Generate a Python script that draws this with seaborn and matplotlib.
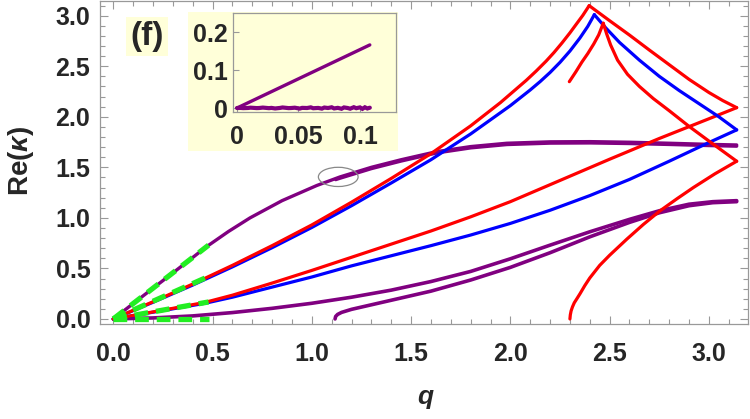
import numpy as np
import pandas as pd
import matplotlib
matplotlib.use("Agg")
import matplotlib.pyplot as plt
from matplotlib.patches import Ellipse, Rectangle
import seaborn as sns

# ---------------- data ----------------
# upper purple curve (branch from origin)
purpleA_q = [0.0, 0.1, 0.2, 0.3, 0.47, 0.58, 0.689, 0.85, 1.025, 1.142, 1.3, 1.45, 1.629, 1.8,
             1.982, 2.2, 2.402, 2.6, 2.8, 3.0, 3.14]
purpleA_y = [0.0, 0.152, 0.304, 0.455, 0.715, 0.865, 1.0, 1.17, 1.32, 1.405, 1.5, 1.575, 1.655, 1.705,
             1.738, 1.752, 1.754, 1.748, 1.738, 1.727, 1.721]
# second, overlapping copy of the upper purple curve (starts at the circled point)
purpleA2_q = [1.12, 1.142, 1.3, 1.45, 1.629, 1.8, 1.982, 2.2, 2.402, 2.6, 2.8, 3.0, 3.14]
purpleA2_y = [1.378, 1.392, 1.487, 1.562, 1.642, 1.692, 1.725, 1.739, 1.741, 1.735, 1.726, 1.715, 1.709]

# red curve rising to the first cusp
red1_q = [0.0, 0.2, 0.4, 0.6, 0.8, 1.0, 1.2, 1.4, 1.6, 1.8, 1.95, 2.08, 2.13, 2.18, 2.22, 2.26,
          2.30, 2.33, 2.365, 2.397]
red1_y = [0.0, 0.17, 0.345, 0.53, 0.725, 0.93, 1.155, 1.39, 1.635, 1.91, 2.14, 2.36, 2.452, 2.55,
          2.636, 2.73, 2.83, 2.91, 3.003, 3.099]
# red branch falling from the first cusp to q = pi
red1b_q = [2.397, 2.5, 2.6, 2.7, 2.8, 2.9, 3.0, 3.07, 3.14]
red1b_y = [3.099, 2.95, 2.808, 2.66, 2.515, 2.37, 2.24, 2.16, 2.09]
# red curve rising from origin to q = pi (lower branch)
red2_q = [0.0, 0.15, 0.3, 0.462, 0.6, 0.8, 1.0, 1.2, 1.4, 1.6, 1.8, 2.0, 2.25, 2.5, 2.75, 3.0, 3.14]
red2_y = [0.0, 0.052, 0.105, 0.164, 0.235, 0.355, 0.48, 0.61, 0.74, 0.87, 1.01, 1.16, 1.37, 1.58, 1.785,
          1.98, 2.09]
# red branches around the second cusp
red3L_q = [2.297, 2.33, 2.36, 2.39, 2.42, 2.445, 2.468]
red3L_y = [2.347, 2.445, 2.54, 2.625, 2.72, 2.81, 2.925]
red3R_q = [2.468, 2.485, 2.505, 2.54, 2.59, 2.65, 2.72, 2.8, 2.9, 3.0, 3.07, 3.14]
red3R_y = [2.925, 2.82, 2.71, 2.56, 2.42, 2.3, 2.18, 2.06, 1.905, 1.76, 1.66, 1.56]
# red curve starting at q ~ 2.3 on the axis
red4_q = [2.300, 2.302, 2.306, 2.313, 2.322, 2.335, 2.351, 2.375, 2.40, 2.45, 2.5, 2.587, 2.67, 2.754,
          2.84, 2.922, 3.03, 3.14]
red4_y = [0.0, 0.04, 0.08, 0.12, 0.16, 0.20, 0.25, 0.33, 0.405, 0.53, 0.63, 0.79, 0.935, 1.07,
          1.19, 1.30, 1.435, 1.56]

# blue curve rising to its cusp
blue1_q = [0.0, 0.2, 0.4, 0.6, 0.8, 1.0, 1.2, 1.4, 1.6, 1.8, 2.0, 2.1, 2.15, 2.2, 2.25, 2.3, 2.35,
           2.39, 2.423]
blue1_y = [0.0, 0.165, 0.335, 0.515, 0.705, 0.905, 1.12, 1.345, 1.575, 1.83, 2.11, 2.265, 2.348,
           2.438, 2.538, 2.65, 2.778, 2.894, 3.01]
blue1b_q = [2.423, 2.48, 2.55, 2.65, 2.75, 2.85, 2.95, 3.05, 3.14]
blue1b_y = [3.01, 2.88, 2.735, 2.56, 2.40, 2.26, 2.13, 2.0, 1.87]
# blue lower branch
blue2_q = [0.0, 0.15, 0.3, 0.462, 0.6, 0.8, 1.0, 1.2, 1.4, 1.6, 1.8, 2.0, 2.2, 2.4, 2.6, 2.8, 3.0, 3.14]
blue2_y = [0.0, 0.05, 0.1, 0.155, 0.215, 0.315, 0.415, 0.525, 0.625, 0.725, 0.83, 0.945, 1.075, 1.22,
           1.38, 1.56, 1.745, 1.87]

# lower purple curves
purpleB_q = [0.0, 0.2, 0.4, 0.6, 0.8, 1.0, 1.2, 1.4, 1.6, 1.8, 2.0, 2.2, 2.4, 2.6, 2.75, 2.9, 3.02, 3.14]
purpleB_y = [0.0, 0.01, 0.03, 0.063, 0.105, 0.155, 0.215, 0.285, 0.37, 0.47, 0.595, 0.73, 0.862, 0.985,
             1.07, 1.135, 1.16, 1.17]
purpleC_q = [1.117, 1.12, 1.13, 1.15, 1.2, 1.3, 1.4, 1.6, 1.8, 2.0, 2.2, 2.4, 2.6, 2.75, 2.9, 3.02, 3.14]
purpleC_y = [0.0, 0.025, 0.045, 0.065, 0.095, 0.14, 0.185, 0.275, 0.385, 0.51, 0.655, 0.812, 0.955,
             1.05, 1.12, 1.15, 1.16]

# green dashed small-q asymptotes
green_q = [0.0, 0.48]
green_y1 = [0.0, 0.73]
green_y2 = [0.0, 0.42]
green_y3 = [0.0, 0.168]
green_y4 = [0.0, 0.0]

# inset
inset_q = [0.0, 0.108]
inset_y = [0.0, 0.166]
inset_noise_q = [0.0, 0.003, 0.005, 0.009, 0.011, 0.016, 0.018, 0.021, 0.026, 0.028, 0.031, 0.035,
                 0.037, 0.042, 0.044, 0.047, 0.051, 0.053, 0.057, 0.06, 0.062, 0.066, 0.069, 0.071,
                 0.074, 0.077, 0.079, 0.082, 0.085, 0.087, 0.09, 0.092, 0.095, 0.097, 0.1, 0.102,
                 0.104, 0.106, 0.108]
inset_noise_y = [0.0, 0.0002, -0.0003, 0.0001, 0.0009, -0.0002, 0.0, 0.0011, -0.0004, 0.0003, -0.0012,
                 0.0002, 0.0014, -0.0003, 0.0, 0.0008, -0.0015, 0.0004, 0.0, 0.0017, -0.0006, 0.0002,
                 -0.0016, 0.0012, 0.0, 0.0019, -0.0011, 0.0004, -0.002, 0.0015, 0.0, -0.0018, 0.0021,
                 -0.0005, 0.0016, -0.0022, 0.0019, -0.0012, 0.0008]

main_xticks = [0.0, 0.5, 1.0, 1.5, 2.0, 2.5, 3.0]
main_yticks = [0.0, 0.5, 1.0, 1.5, 2.0, 2.5, 3.0]
inset_xticks = [0, 0.05, 0.1]
inset_xticklabels = ["0", "0.05", "0.1"]
inset_yticks = [0, 0.1, 0.2]
inset_yticklabels = ["0", "0.1", "0.2"]

# ---------------- style ----------------
sns.set_style("ticks")
plt.rcParams["font.family"] = ["Liberation Sans", "DejaVu Sans"]
plt.rcParams["font.weight"] = "bold"
plt.rcParams["mathtext.fontset"] = "custom"
plt.rcParams["mathtext.it"] = "Liberation Sans:italic"
plt.rcParams["mathtext.rm"] = "Liberation Sans"

RED = "#FF0000"
BLUE = "#0000FF"
PURPLE = "#800080"
GREEN = "#22EE22"
YELLOW = "#FFFFD9"
FRAME = "#999999"

fig = plt.figure(figsize=(7.5, 4.19), dpi=100)
ax = fig.add_axes([100 / 750, 1 - 324 / 419, 648 / 750, 323 / 419])


def draw(a, qs, ys, color, lw, **kw):
    df = pd.DataFrame({"q": qs, "y": ys})
    sns.lineplot(data=df, x="q", y="y", ax=a, color=color, lw=lw, sort=False,
                 estimator=None, **kw)


LW = 2.3
draw(ax, purpleB_q, purpleB_y, PURPLE, 2.6)
draw(ax, purpleC_q, purpleC_y, PURPLE, 2.6)
draw(ax, purpleA_q, purpleA_y, PURPLE, 2.4)
draw(ax, purpleA2_q, purpleA2_y, PURPLE, 2.4)
draw(ax, blue2_q, blue2_y, BLUE, LW)
draw(ax, red2_q, red2_y, RED, LW)
draw(ax, blue1_q, blue1_y, BLUE, LW)
draw(ax, blue1b_q, blue1b_y, BLUE, LW)
draw(ax, red1_q, red1_y, RED, LW)
draw(ax, red1b_q, red1b_y, RED, LW)
draw(ax, red3L_q, red3L_y, RED, LW)
draw(ax, red3R_q, red3R_y, RED, LW)
draw(ax, red4_q, red4_y, RED, LW)
for gy in (green_y1, green_y2, green_y3, green_y4):
    draw(ax, green_q, gy, GREEN, 3.8)
for line in ax.lines[-4:]:
    line.set_dashes([2.6, 1.5])
    line.set_zorder(5)
for line in ax.lines:
    line.set_solid_joinstyle("round")

ax.add_patch(Ellipse((1.133, 1.405), 0.2, 0.19, fill=False, edgecolor="#888888", lw=0.9, zorder=6))

ax.set_xlim(-0.067, 3.197)
ax.set_ylim(-0.05, 3.145)
ax.set_xticks(main_xticks)
ax.set_yticks(main_yticks)
ax.set_xticklabels([f"{v:.1f}" for v in main_xticks], fontsize=18, fontweight="bold")
ax.set_yticklabels([f"{v:.1f}" for v in main_yticks], fontsize=18, fontweight="bold")
ax.xaxis.set_minor_locator(matplotlib.ticker.MultipleLocator(0.1))
ax.yaxis.set_minor_locator(matplotlib.ticker.MultipleLocator(0.1))
ax.tick_params(which="both", direction="in", top=True, right=True, color=FRAME, width=0.8)
ax.tick_params(which="major", length=6)
ax.tick_params(which="minor", length=3.5)
ax.tick_params(axis="x", which="major", pad=13)
ax.tick_params(axis="y", which="major", pad=7)
for s in ax.spines.values():
    s.set_color(FRAME)
    s.set_linewidth(0.9)
ax.set_xlabel("")
ax.set_ylabel("")
fig.text(425 / 750, 1 - 397 / 419, "q", fontsize=19, fontweight="bold", style="italic",
         ha="center", va="center")
fig.text(21 / 750, 1 - 161 / 419, r"Re($\it{\kappa}$)", fontsize=20, fontweight="bold",
         rotation=90, ha="center", va="center")

# "(f)" label
fig.text(147 / 750, 1 - 37 / 419, "(f)", fontsize=24, fontweight="bold", ha="center", va="center",
         bbox=dict(boxstyle="square,pad=0.12", facecolor=YELLOW, edgecolor="none"))

# inset background
fig.patches.append(Rectangle((188 / 750, 1 - 151 / 419), 210 / 750, 139 / 419,
                             transform=fig.transFigure, facecolor=YELLOW, edgecolor="none",
                             zorder=2))
iax = fig.add_axes([233 / 750, 1 - 112 / 419, 163 / 750, 99 / 419], zorder=3)
iax.set_facecolor(YELLOW)
draw(iax, inset_noise_q, inset_noise_y, PURPLE, 3.0)
draw(iax, inset_q, inset_y, PURPLE, 2.4)
for line in iax.lines:
    line.set_solid_joinstyle("miter")
iax.set_xlim(-0.00325, 0.1293)
iax.set_ylim(-0.0105, 0.25)
iax.set_xticks(inset_xticks)
iax.set_xticklabels(inset_xticklabels, fontsize=18, fontweight="bold")
iax.set_yticks(inset_yticks)
iax.set_yticklabels(inset_yticklabels, fontsize=18, fontweight="bold")
iax.tick_params(direction="in", length=4, color=FRAME, width=0.8)
iax.tick_params(axis="x", pad=9)
iax.tick_params(axis="y", pad=4)
iax.set_xlabel("")
iax.set_ylabel("")
for s in iax.spines.values():
    s.set_color(FRAME)
    s.set_linewidth(0.9)

fig.savefig("out.png", dpi=100)
